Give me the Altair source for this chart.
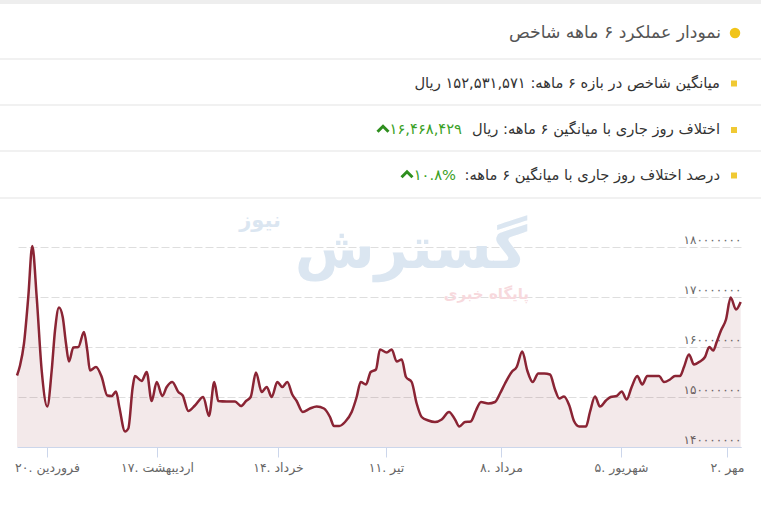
import json
import altair as alt
import pandas as pd

# ---- data -------------------------------------------------------------------
# position along the x axis (trading-day units) and index value (rial)
days = [0, 0.55, 1.27, 2.05, 2.78, 3.58, 4.49, 5.51, 6.31, 6.91,
        7.64, 8.31, 8.91, 9.45, 10.24, 11.15, 12.18, 12.78, 13.27, 14.36,
        15.4, 16.42, 17.22, 18, 18.6, 19.64, 20.24, 21.04, 21.45, 22.67,
        23.58, 24.49, 25.4, 26.42, 27.22, 28.24, 29.33, 30.13, 31.15, 32.36,
        33.87, 34.91, 35.87, 36.6, 38.13, 39.64, 40.73, 41.64, 42.49, 43.45,
        44.49, 45.4, 46.31, 47.33, 48.24, 49.15, 50.05, 50.85, 51.95, 53.27,
        54.49, 55.82, 56.91, 57.64, 58.6, 59.64, 60.85, 61.76, 62.49, 63.45,
        64.31, 65.27, 66, 67.22, 68.13, 69.04, 69.95, 70.73, 71.76, 72.67,
        73.58, 74.78, 76, 77.22, 78.55, 79.64, 80.42, 81.45, 82.49, 83.45,
        84.36, 85.69, 86.91, 87.82, 88.73, 89.95, 90.85, 91.87, 92.78, 93.76,
        94.78, 95.87, 96.91, 97.82, 98.6, 99.45, 100.42, 101.27, 102.24, 103.45,
        104.18, 105.09, 106, 107.09, 107.95, 109.04, 109.95, 110.85, 111.76, 112.78,
        113.69, 114.6, 115.69, 116.73, 117.64, 118.73, 119.64, 120.55, 121.27, 122.18,
        123.09, 124.18, 125.09, 125.87, 126.6, 127.22, 128, 128.91, 129.76, 130.73,
        131.58]

index_values = [154300000, 156300000, 160700000, 170000000, 180200000, 170000000, 155300000, 148100000, 155300000, 163300000,
                167900000, 166000000, 160700000, 157100000, 159900000, 160000000, 163000000, 159300000, 155300000, 156000000,
                154000000, 150300000, 150200000, 151100000, 148000000, 143100000, 143700000, 152000000, 154200000, 153200000,
                155000000, 149200000, 153000000, 150200000, 152000000, 153000000, 151000000, 150300000, 147200000, 148300000,
                150000000, 146200000, 153000000, 149200000, 149100000, 149100000, 148200000, 149200000, 150000000, 154900000,
                151000000, 152000000, 150000000, 153000000, 152000000, 153000000, 150500000, 149200000, 147000000, 147700000,
                148100000, 147700000, 146000000, 144200000, 144200000, 145000000, 147000000, 150000000, 153000000, 152500000,
                155000000, 155500000, 159500000, 158900000, 159500000, 157100000, 157500000, 154000000, 153000000, 148700000,
                146000000, 145300000, 145000000, 145500000, 147000000, 145500000, 144100000, 145000000, 145100000, 147300000,
                149000000, 148700000, 149000000, 150700000, 152700000, 155000000, 156000000, 159100000, 155300000, 153000000,
                154700000, 154700000, 154500000, 151500000, 149700000, 150100000, 148300000, 145200000, 144100000, 144100000,
                147000000, 150100000, 148100000, 149300000, 150000000, 150200000, 151100000, 149500000, 152000000, 154200000,
                152500000, 154200000, 154200000, 154200000, 153000000, 153500000, 154200000, 154200000, 156000000, 158500000,
                156500000, 157100000, 158000000, 160000000, 159300000, 161000000, 163300000, 165500000, 169900000, 167500000,
                169000000]

x_tick_days = [5.45, 25.45, 47.45, 67.09, 88, 109.82, 129.09]
x_tick_labels = ["۲۰.\u200e فروردین", "۱۷.\u200e اردیبهشت", "۱۴.\u200e خرداد", "۱۱.\u200e تیر",
                 "۸.\u200e مرداد", "۵.\u200e شهریور", "۲.\u200e مهر"]

y_tick_values = [140000000, 150000000, 160000000, 170000000, 180000000]
y_tick_labels = ["۱۴۰۰۰۰۰۰۰", "۱۵۰۰۰۰۰۰۰", "۱۶۰۰۰۰۰۰۰", "۱۷۰۰۰۰۰۰۰", "۱۸۰۰۰۰۰۰۰"]
y_base = 140000000

title_text = "نمودار عملکرد ۶ ماهه شاخص"
item1_text = "میانگین شاخص در بازه ۶ ماهه: ۱۵۲,۵۳۱,۵۷۱ ریال"
item2_text = "اختلاف روز جاری با میانگین ۶ ماهه: ریال"
item2_value = "۱۶,۴۶۸,۴۲۹"
item3_text = "درصد اختلاف روز جاری با میانگین ۶ ماهه:\u200f"
item3_value = "۱۰.۸%"

# ---- chart --------------------------------------------------------------------
df = pd.DataFrame({"day": days, "value": index_values})

LINE = "#8a2434"
FONT = "DejaVu Sans"

x_expr = f"{json.dumps(x_tick_labels, ensure_ascii=False)}[indexof({json.dumps(x_tick_days)}, datum.value)]"
y_expr = f"{json.dumps(y_tick_labels, ensure_ascii=False)}[indexof({json.dumps(y_tick_values)}, datum.value)]"

x_enc = alt.X("day:Q", scale=alt.Scale(domain=[0, 131.64], nice=False, zero=False),
              axis=alt.Axis(values=x_tick_days, labelExpr=x_expr, grid=False, title=None,
                            domainColor="#ccd6eb", tickColor="#ccd6eb", tickSize=10,
                            labelPadding=4, labelColor="#666666", labelFontSize=12.5,
                            labelAngle=0, labelFont=FONT))
y_enc = alt.Y("value:Q", scale=alt.Scale(domain=[140000000, 186400000], nice=False, zero=False),
              axis=alt.Axis(orient="right", values=y_tick_values, labelExpr=y_expr, title=None,
                            grid=True, gridDash=[8, 3], gridColor="#dedede", domain=False,
                            ticks=False, tickSize=0, labelAlign="right", labelBaseline="bottom",
                            labelPadding=0, labelOffset=-1, labelColor="#666666",
                            labelFontSize=12, labelFont=FONT))

base = alt.Chart(df)
area = base.mark_area(color=LINE, opacity=0.1, interpolate="monotone").encode(
    x=x_enc, y=y_enc, y2=alt.datum(y_base))
line = base.mark_line(color=LINE, strokeWidth=2.5, interpolate="monotone").encode(x="day:Q", y="value:Q")

one = pd.DataFrame({"k": [0]})


def txt(t, x, y, size, color, align="right", weight="normal", baseline="middle"):
    return alt.Chart(one).mark_text(text=t, align=align, baseline=baseline, fontSize=size,
                                    color=color, fontWeight=weight, font=FONT).encode(
        x=alt.value(x), y=alt.value(y))


def hrule(y, color="#e4e4e4", width=1.2):
    return alt.Chart(one).mark_rule(color=color, strokeWidth=width).encode(
        x=alt.value(-17), x2=alt.value(744), y=alt.value(y))


def bullet(x, y, shape, size, color):
    return alt.Chart(one).mark_point(shape=shape, size=size, filled=True, color=color, opacity=1).encode(
        x=alt.value(x), y=alt.value(y))


def chevron(x, y):
    return alt.Chart(one).mark_point(shape="M-1,0.5L0,-0.5L1,0.5", size=120, filled=False,
                                     color="#2e8e1e", strokeWidth=3, opacity=1).encode(
        x=alt.value(x), y=alt.value(y))


watermark = [
    txt("گسترش", 394, 36, 58, "#dbe6f1", align="center", weight="bold"),
    txt("نیوز", 243, 6, 21, "#dbe6f1", align="center", weight="bold"),
    txt("پایگاه خبری", 512, 79, 15, "#f7d9dd", align="right", weight="bold"),
]

FS = 14.7
header = [
    hrule(-213, "#eeeeee", 4),
    hrule(-156), hrule(-110), hrule(-64), hrule(-17),
    bullet(718, -182, "circle", 110, "#f1c419"),
    txt(title_text, 704, -182, 17.2, "#555555"),
    bullet(717, -131.5, "square", 36, "#f0c933"),
    txt(item1_text, 703, -131.5, FS, "#333333"),
    bullet(717, -85, "square", 36, "#f0c933"),
    txt(item2_text, 703, -85, FS, "#333333"),
    txt(item2_value, 445, -85, FS, "#3aa126"),
    chevron(366, -86),
    bullet(717, -39.5, "square", 36, "#f0c933"),
    txt(item3_text, 703, -39.5, FS, "#333333"),
    txt(item3_value, 439, -39.5, FS, "#3aa126"),
    chevron(390, -40.5),
]

chart = alt.layer(*watermark, area, line, *header).properties(
    width=724, height=232,
    autosize=alt.AutoSizeParams(type="none"),
    padding={"left": 17, "top": 215, "right": 20, "bottom": 60},
    background="white",
).configure_view(stroke=None)

chart.save("out.html", embed_options={"renderer": "svg", "actions": False})
